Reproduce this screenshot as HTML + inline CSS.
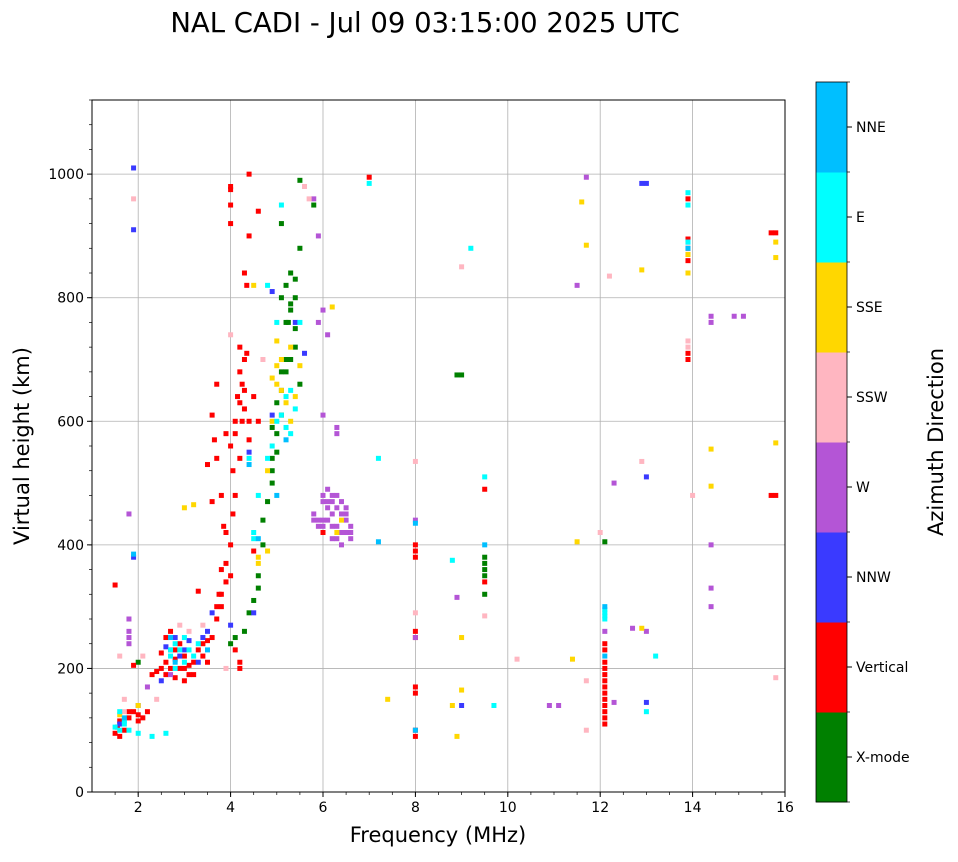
<!DOCTYPE html>
<html><head><meta charset="utf-8">
<style>
body{margin:0;background:#fff;}
svg text{font-family:"DejaVu Sans","Liberation Sans",sans-serif;}
</style></head>
<body>
<svg id="chart" width="958" height="857" xmlns="http://www.w3.org/2000/svg">
<text x="425" y="32" font-size="27.5" text-anchor="middle">NAL CADI - Jul 09 03:15:00 2025 UTC</text>
<g id="grid"></g>
<g id="marks"></g>
<rect x="92" y="100" width="693" height="692" fill="none" stroke="#000" stroke-width="1"/>
<g id="axes"></g>
<text x="438" y="842" font-size="21" text-anchor="middle">Frequency (MHz)</text>
<text transform="translate(29,446) rotate(-90)" font-size="21" text-anchor="middle">Virtual height (km)</text>
<g id="colorbar"></g>
<text transform="translate(943,442) rotate(-90)" font-size="21" text-anchor="middle">Azimuth Direction</text>
</svg>
<script>
const categories = ["X-mode","Vertical","NNW","W","SSW","SSE","E","NNE"];
const colors = ["#008000","#ff0000","#3a3aff","#b455d6","#ffb6c1","#ffd700","#00ffff","#00bfff"];
const xTicks = [2,4,6,8,10,12,14,16];
const yTicks = [0,200,400,600,800,1000];

const xmode = [[4.0,240],[4.1,250],[4.3,260],[4.4,290],[4.5,310],[4.6,350],[4.6,330],[4.7,400],[4.7,440],[4.8,470],[4.9,500],[4.9,520],[5.0,550],[5.0,580],[5.1,610],[5.1,650],[5.2,680],[5.2,700],[5.25,760],[5.3,790],[5.2,820],[5.3,840],[5.4,800],[5.4,720],[5.5,660],[5.5,880],[5.5,990],[5.8,950],[5.1,920],[5.4,750],[5.0,630],[4.9,590],[9.5,320],[9.5,350],[9.5,360],[9.5,370],[9.5,380],[8.9,675],[9.0,675],[12.1,405],[2.0,210],[5.2,760],[5.3,780],[5.3,700],[5.1,680],[4.9,540],[5.4,830],[5.1,800]];
const vertical = [[1.5,95],[1.55,105],[1.6,90],[1.7,100],[1.8,120],[1.9,130],[2.0,125],[2.1,120],[2.2,130],[2.3,190],[2.4,195],[2.5,200],[2.6,210],[2.7,230],[2.7,200],[2.8,215],[2.8,185],[2.9,240],[2.9,200],[3.0,220],[3.0,180],[3.1,205],[3.2,190],[3.3,230],[3.4,240],[3.5,210],[3.6,250],[3.7,280],[3.7,300],[3.8,320],[3.8,360],[3.9,340],[3.9,420],[3.85,430],[3.8,480],[3.7,540],[3.65,570],[3.6,610],[3.7,660],[3.9,580],[4.0,560],[4.05,520],[4.1,600],[4.15,640],[4.2,680],[4.25,660],[4.3,700],[4.35,710],[4.3,620],[4.4,570],[4.2,540],[4.1,480],[4.0,400],[4.05,450],[4.3,840],[4.35,820],[4.4,900],[4.6,940],[4.4,1000],[4.0,950],[4.0,975],[4.2,200],[4.2,210],[4.1,230],[4.5,390],[4.5,640],[4.6,600],[1.5,335],[1.9,205],[3.6,470],[3.5,530],[6.0,420],[8,90],[8,100],[8,160],[8,170],[8,380],[8,390],[8,400],[8,250],[8,260],[9.5,490],[9.5,340],[12.1,110],[12.1,120],[12.1,140],[12.1,150],[12.1,160],[12.1,170],[12.1,180],[12.1,190],[12.1,200],[12.1,230],[12.1,240],[13.9,700],[13.9,710],[13.9,860],[13.9,870],[13.9,880],[13.9,895],[13.9,960],[15.7,905],[15.8,905],[15.7,480],[15.8,480],[7.0,995],[3.3,325],[4.0,980],[4.0,920],[2.6,250],[2.7,260],[2.8,230],[3.0,200],[3.1,190],[3.2,210],[2.6,190],[2.5,225],[3.4,220],[3.5,245],[3.8,300],[3.9,370],[3.75,320],[4.0,350],[1.6,115],[1.8,130],[2.0,115],[12.1,130],[12.1,210],[4.2,630],[4.3,650],[4.4,600],[4.1,580],[4.2,720],[4.25,600]];
const nnw = [[1.6,110],[2.0,140],[2.5,180],[2.6,235],[2.8,250],[2.9,220],[3.0,230],[3.1,245],[3.3,210],[3.4,250],[3.5,260],[3.6,290],[4.0,270],[4.5,290],[4.4,550],[4.9,610],[5.4,760],[5.6,710],[1.9,380],[1.9,910],[1.9,1010],[13.0,510],[12.9,985],[13.0,985],[13.0,145],[9.0,140],[4.9,810]];
const west = [[1.8,450],[1.8,280],[1.8,250],[1.8,260],[1.8,240],[2.2,170],[2.7,190],[5.8,960],[5.9,900],[6.0,610],[6.0,780],[6.1,740],[5.9,760],[6.3,580],[6.3,590],[5.8,440],[5.9,440],[6.0,430],[6.1,460],[6.2,470],[6.3,480],[6.4,470],[6.5,460],[6.5,440],[6.6,430],[6.6,410],[6.2,410],[6.1,490],[6.2,450],[6.4,420],[6.5,420],[6.3,430],[6.0,480],[8,440],[8,250],[8.9,315],[12.3,500],[12.7,265],[13.0,260],[14.4,770],[14.4,760],[14.9,770],[15.1,770],[14.4,300],[14.4,330],[14.4,400],[12.1,260],[13.9,890],[11.5,820],[11.7,995],[10.9,140],[11.1,140],[12.3,145],[5.8,450],[5.9,430],[6.0,440],[6.1,440],[6.2,430],[6.3,460],[6.4,450],[6.5,450],[6.6,420],[6.3,410],[6.4,400],[6.0,470],[6.1,470],[6.2,480]];
const ssw = [[1.7,130],[1.6,220],[1.9,960],[2.4,150],[2.9,270],[3.1,260],[3.4,270],[4.0,740],[4.7,700],[5.6,980],[5.7,960],[8,535],[8,290],[9.5,285],[9.0,850],[12.2,835],[12.9,535],[12.0,420],[13.9,730],[13.9,720],[14.0,480],[15.8,185],[10.2,215],[11.7,100],[11.7,180],[1.7,150],[2.1,220],[3.9,200]];
const sse = [[1.6,125],[2.0,140],[3.0,460],[3.2,465],[4.6,380],[4.6,370],[4.8,390],[4.8,520],[4.9,670],[5.0,690],[5.2,630],[5.3,600],[5.1,700],[5.5,690],[6.3,420],[6.4,440],[6.2,785],[7.4,150],[8.9,90],[8.8,140],[9.0,165],[9.0,250],[11.5,405],[11.4,215],[11.7,885],[12.9,845],[12.9,265],[14.4,555],[14.4,495],[13.9,840],[13.9,870],[15.8,890],[15.8,865],[15.8,565],[11.6,955],[4.5,820],[5.0,730],[5.0,660],[5.1,650],[5.4,640],[5.3,720],[4.9,600]];
const east = [[1.5,105],[1.6,100],[1.7,115],[1.8,100],[2.0,95],[2.3,90],[2.6,95],[2.7,220],[2.8,240],[2.9,230],[3.0,250],[3.2,220],[3.3,240],[4.5,410],[4.5,420],[4.6,480],[4.4,540],[4.9,560],[5.1,610],[5.3,650],[5.2,590],[5.4,620],[5.0,760],[5.5,760],[4.8,820],[5.1,950],[7.2,540],[7.0,985],[9.2,880],[9.5,510],[8.8,375],[12.1,280],[12.1,290],[13.2,220],[13.0,130],[9.7,140],[13.9,970],[13.9,950],[13.9,890],[2.7,230],[2.8,200],[3.0,210],[3.1,230],[5.2,640],[5.3,580],[5.0,600],[4.8,540],[1.6,130],[1.7,110],[12.1,285],[12.1,295]];
const nne = [[1.7,120],[1.9,385],[2.7,250],[3.5,230],[4.4,530],[4.6,410],[5.0,480],[8,435],[12.1,300],[12.1,220],[7.2,405],[9.5,400],[13.9,880],[8,100],[2.8,210],[5.2,570]];
const series = [xmode, vertical, nnw, west, ssw, sse, east, nne];

const NS="http://www.w3.org/2000/svg";
const L=92,R=785,T=100,B=792, X0=1,X1=16, Y0=0,Y1=1120;
function xs(f){return L+(f-X0)/(X1-X0)*(R-L);}
function ys(h){return B-(h-Y0)/(Y1-Y0)*(B-T);}
function mk(tag,attrs,parent){const e=document.createElementNS(NS,tag);for(const k in attrs)e.setAttribute(k,attrs[k]);parent.appendChild(e);return e;}
const grid=document.getElementById('grid'),axes=document.getElementById('axes'),marks=document.getElementById('marks'),cb=document.getElementById('colorbar');
xTicks.forEach(t=>{
  const g=mk('line',{x1:xs(t),x2:xs(t),y1:T,y2:B,stroke:'#b0b0b0','stroke-width':0.8},grid);
  
  
  mk('line',{x1:xs(t),x2:xs(t),y1:B,y2:B+5,stroke:'#000'},axes);
  const tx=mk('text',{x:xs(t),y:B+20,'font-size':14,'text-anchor':'middle'},axes);
  tx.textContent=t;
  
  
});
yTicks.forEach(t=>{
  const g=mk('line',{x1:L,x2:R,y1:ys(t),y2:ys(t),stroke:'#b0b0b0','stroke-width':0.8},grid);
  
  
  mk('line',{x1:L-5,x2:L,y1:ys(t),y2:ys(t),stroke:'#000'},axes);
  const tx=mk('text',{x:L-8,y:ys(t)+5,'font-size':14,'text-anchor':'end'},axes);
  tx.textContent=t;
  
  
});
for(let m=0;m<=1120;m+=40){mk('line',{x1:L-3,x2:L,y1:ys(m),y2:ys(m),stroke:'#000','stroke-width':0.7},axes);}
for(let m=1.5;m<=16;m+=0.5){mk('line',{x1:xs(m),x2:xs(m),y1:B,y2:B+3,stroke:'#000','stroke-width':0.7},axes);}
const mw=5, mh=5;
series.forEach((pts,ci)=>{
  pts.forEach(p=>{
    const r=mk('rect',{x:xs(p[0])-mw/2,y:ys(p[1])-mh/2,width:mw,height:mh,fill:colors[ci]},marks);
    
    
  });
});
const cT=82,cB=802,cL=816,cW=31,seg=(cB-cT)/categories.length;
categories.forEach((c,i)=>{
  const y=cB-(i+1)*seg;
  const r=mk('rect',{x:cL,y:y,width:cW,height:seg+0.5,fill:colors[i]},cb);
  
  
  mk('line',{x1:cL+cW,x2:cL+cW+5,y1:y+seg/2,y2:y+seg/2,stroke:'#000'},cb);
  const tx=mk('text',{x:cL+cW+9,y:y+seg/2+5,'font-size':14},cb);
  tx.textContent=c;
  
  
});
for(let i=0;i<=categories.length;i++){mk('line',{x1:cL+cW,x2:cL+cW+3,y1:cT+i*seg,y2:cT+i*seg,stroke:'#000','stroke-width':0.7},cb);}
mk('rect',{x:cL,y:cT,width:cW,height:cB-cT,fill:'none',stroke:'#000','stroke-width':0.8},cb);
</script>
</body></html>
